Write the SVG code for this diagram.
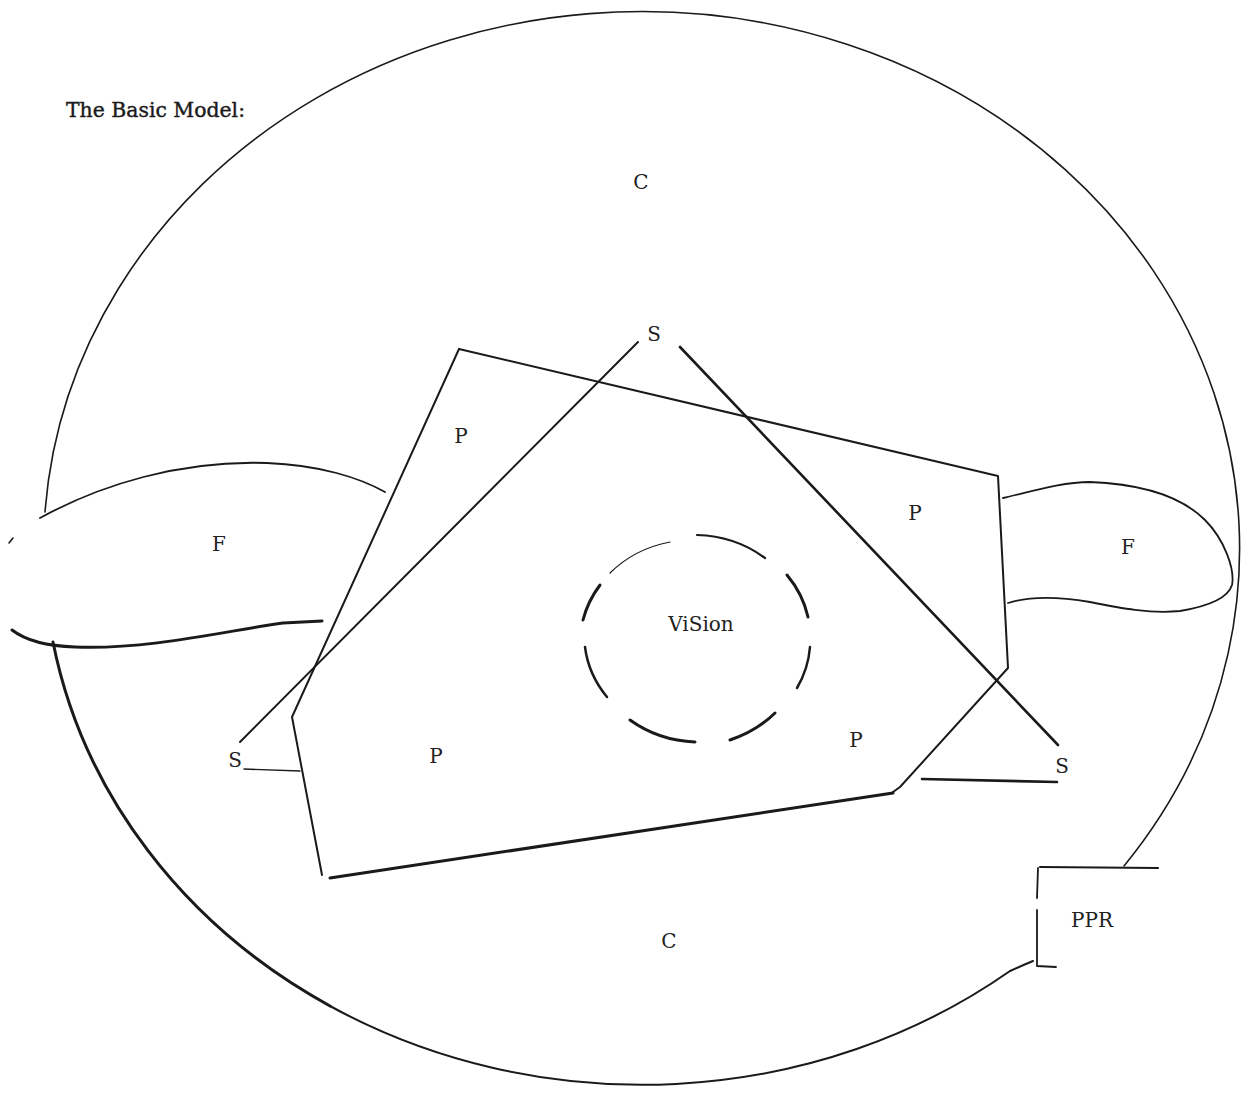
<svg xmlns="http://www.w3.org/2000/svg" width="1246" height="1093" viewBox="0 0 1246 1093">
<style>
.ln{fill:none;stroke:#1a1a1a;stroke-linecap:round;stroke-linejoin:round}
.t{font-family:"DejaVu Serif","Liberation Serif",serif;font-size:20px;fill:#222;text-anchor:middle}
.title{font-family:"DejaVu Serif","Liberation Serif",serif;font-size:20px;fill:#1a1a1a;stroke:#1a1a1a;stroke-width:0.4}
</style>
<rect width="1246" height="1093" fill="#fff"/>
<text class="title" x="66" y="117" textLength="179" lengthAdjust="spacingAndGlyphs">The Basic Model:</text>

<g id="context-circle">
<path class="ln" stroke-width="1.6" d="M45,512 A598 537 0 1 1 1124,866"/>
<path class="ln" stroke-width="2" d="M1033,961 Q1021,966 1010,971 A598 537 0 0 1 330,1006"/>
<path class="ln" stroke-width="3" d="M330,1006 A598 537 0 0 1 53,642"/>
<text class="t" x="641" y="189">C</text>
<text class="t" x="669" y="948">C</text>
</g>

<g id="flow-left">
<path class="ln" stroke-width="1.8" d="M40,518 C100,485 180,460 267,463 C320,465 360,478 385,492"/>
<path class="ln" stroke-width="1.6" d="M9,543 L13,538"/>
<path class="ln" stroke-width="3" d="M12,630 C25,640 45,646 75,647 C150,650 230,630 283,623 L322,621"/>
<text class="t" x="219" y="551">F</text>
</g>

<g id="flow-right">
<path class="ln" stroke-width="1.8" d="M1003,498 C1030,492 1060,482 1090,482 C1140,484 1180,495 1205,520 C1225,540 1235,570 1232,585 C1228,598 1210,606 1180,611 C1150,614 1120,608 1090,602 C1060,597 1030,596 1008,603"/>
<text class="t" x="1128" y="554">F</text>
</g>

<g id="perspectives">
<path class="ln" stroke-width="2" d="M459,349 L998,476 L1008,668 L900,787 L893,792"/>
<path class="ln" stroke-width="3" d="M893,793 L330,878"/>
<path class="ln" stroke-width="2" d="M322,875 L292,717 L459,349"/>
<text class="t" x="461" y="443">P</text>
<text class="t" x="915" y="520">P</text>
<text class="t" x="436" y="763">P</text>
<text class="t" x="856" y="747">P</text>
</g>

<g id="strategy-triangle">
<path class="ln" stroke-width="2" d="M638,342 L240,742"/>
<path class="ln" stroke-width="2.6" d="M680,347 L1058,745"/>
<path class="ln" stroke-width="1.4" d="M244,769 L300,771"/>
<path class="ln" stroke-width="2.6" d="M922,779 L1057,782"/>
<text class="t" x="654" y="341">S</text>
<text class="t" x="235" y="767">S</text>
<text class="t" x="1062" y="773">S</text>
</g>

<g id="vision">
<path class="ln" stroke-width="1.2" d="M610,573 A113 103 0 0 1 670,542"/>
<path class="ln" stroke-width="2.2" d="M697,535 A113 103 0 0 1 765,558"/>
<path class="ln" stroke-width="3" d="M787,575 A113 103 0 0 1 808,617"/>
<path class="ln" stroke-width="2.5" d="M810,647 A113 103 0 0 1 797,688"/>
<path class="ln" stroke-width="3" d="M775,713 A113 103 0 0 1 730,740"/>
<path class="ln" stroke-width="3" d="M695,742 A113 103 0 0 1 630,720"/>
<path class="ln" stroke-width="2.5" d="M607,697 A113 103 0 0 1 585,647"/>
<path class="ln" stroke-width="3" d="M583,620 A113 103 0 0 1 600,585"/>
<text class="t" x="701" y="631">ViSion</text>
</g>

<g id="ppr">
<path class="ln" stroke-width="2.2" d="M1040,867 L1158,868"/>
<path class="ln" stroke-width="1.8" d="M1038,868 L1037,898 M1037,910 L1037,966 L1056,967"/>
<text class="t" x="1092" y="927">PPR</text>
</g>
</svg>
